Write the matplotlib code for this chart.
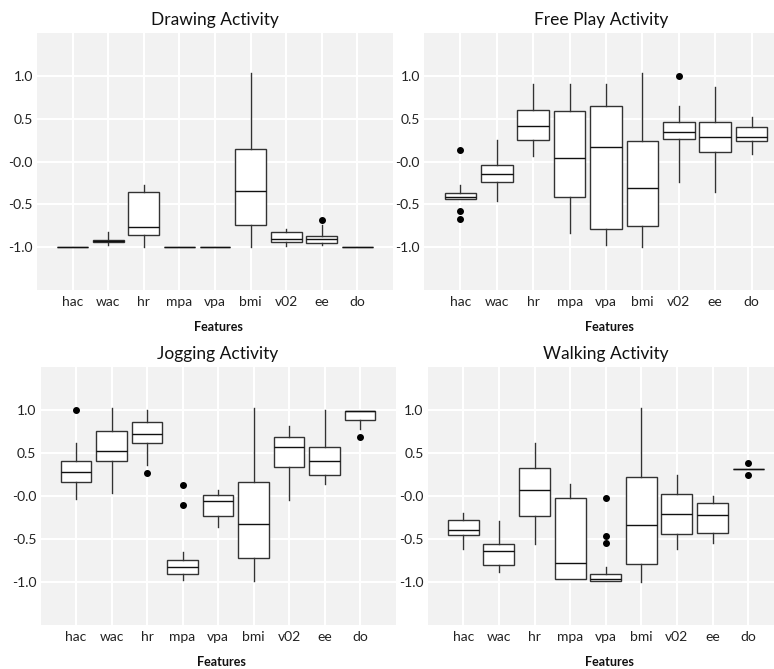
import numpy as np
import matplotlib
matplotlib.use("Agg")
import matplotlib.pyplot as plt

plt.rcParams['font.family'] = ['Lato', 'DejaVu Sans']

features = ['hac', 'wac', 'hr', 'mpa', 'vpa', 'bmi', 'v02', 'ee', 'do']
titles = ['Drawing Activity', 'Free Play Activity', 'Jogging Activity', 'Walking Activity']
ytick_vals = [1.0, 0.5, 0.0, -0.5, -1.0]
ytick_labels = ['1.0', '0.5', '-0.0', '-0.5', '-1.0']

# box stats, one entry per feature
drawing_lo = [-1.0, -0.97, -1.0, -1.0, -1.0, -1.0, -0.99, -0.98, -1.0]
drawing_q1 = [-1.0, -0.935, -0.86, -1.0, -1.0, -0.74, -0.94, -0.95, -1.0]
drawing_med = [-1.0, -0.925, -0.76, -1.0, -1.0, -0.34, -0.90, -0.91, -1.0]
drawing_q3 = [-1.0, -0.915, -0.36, -1.0, -1.0, 0.15, -0.82, -0.875, -1.0]
drawing_hi = [-1.0, -0.82, -0.28, -1.0, -1.0, 1.03, -0.79, -0.74, -1.0]
drawing_out = [[], [], [], [], [], [], [], [-0.68], []]

freeplay_lo = [-0.44, -0.465, 0.07, -0.84, -0.98, -0.995, -0.245, -0.36, 0.09]
freeplay_q1 = [-0.44, -0.245, 0.25, -0.41, -0.79, -0.755, 0.26, 0.115, 0.235]
freeplay_med = [-0.41, -0.145, 0.42, 0.045, 0.175, -0.305, 0.34, 0.29, 0.29]
freeplay_q3 = [-0.37, -0.045, 0.60, 0.595, 0.65, 0.245, 0.46, 0.465, 0.40]
freeplay_hi = [-0.28, 0.25, 0.91, 0.91, 0.91, 1.03, 0.645, 0.87, 0.52]
freeplay_out = [[0.14, -0.575, -0.67], [], [], [], [], [], [1.0], [], []]

jogging_lo = [-0.03, 0.03, 0.365, -0.975, -0.365, -0.99, -0.05, 0.135, 0.78]
jogging_q1 = [0.16, 0.405, 0.615, -0.91, -0.235, -0.72, 0.335, 0.245, 0.88]
jogging_med = [0.275, 0.525, 0.725, -0.83, -0.055, -0.33, 0.575, 0.41, 0.99]
jogging_q3 = [0.405, 0.76, 0.865, -0.74, 0.01, 0.16, 0.685, 0.575, 0.99]
jogging_hi = [0.615, 1.02, 1.0, -0.655, 0.075, 1.025, 0.815, 1.0, 0.99]
jogging_out = [[1.0], [], [0.27], [0.125, -0.11], [], [], [], [], [0.685]]

walking_lo = [-0.62, -0.88, -0.56, -0.96, -0.99, -1.0, -0.62, -0.55, 0.31]
walking_q1 = [-0.45, -0.80, -0.235, -0.96, -0.99, -0.785, -0.44, -0.435, 0.31]
walking_med = [-0.395, -0.645, 0.07, -0.78, -0.97, -0.335, -0.215, -0.225, 0.31]
walking_q3 = [-0.275, -0.555, 0.33, -0.025, -0.91, 0.22, 0.02, -0.08, 0.31]
walking_hi = [-0.195, -0.285, 0.62, 0.135, -0.825, 1.02, 0.245, 0.0, 0.31]
walking_out = [[], [], [], [], [-0.025, -0.465, -0.545], [], [], [], [0.38, 0.25]]

panels = [
    (drawing_lo, drawing_q1, drawing_med, drawing_q3, drawing_hi, drawing_out),
    (freeplay_lo, freeplay_q1, freeplay_med, freeplay_q3, freeplay_hi, freeplay_out),
    (jogging_lo, jogging_q1, jogging_med, jogging_q3, jogging_hi, jogging_out),
    (walking_lo, walking_q1, walking_med, walking_q3, walking_hi, walking_out),
]

W, H = 774, 669
fig = plt.figure(figsize=(W / 100, H / 100), dpi=100)

# axes boxes in pixels: left, top, width, height (right ones run off the edge)
boxes = [(37, 33, 356, 257), (424, 33, 364, 257),
         (40.5, 367, 355, 258), (427.7, 367, 356, 258)]
title_x = [0.5, 0.488, 0.5, 0.5]

pos = np.arange(1, len(features) + 1)

for i, (lo, q1, med, q3, hi, out) in enumerate(panels):
    l, t, w, h = boxes[i]
    ax = fig.add_axes([l / W, 1 - (t + h) / H, w / W, h / H])
    ax.set_facecolor('#F2F2F2')
    for s in ax.spines.values():
        s.set_visible(False)

    stats = []
    for k in range(len(features)):
        stats.append(dict(whislo=lo[k], q1=q1[k], med=med[k], q3=q3[k],
                          whishi=hi[k], fliers=out[k]))
    ax.bxp(stats, positions=pos, widths=0.87, patch_artist=True, showcaps=False,
           boxprops=dict(facecolor='white', edgecolor='#333333', linewidth=1.0),
           medianprops=dict(color='#111111', linewidth=1.0),
           whiskerprops=dict(color='#333333', linewidth=1.0),
           flierprops=dict(marker='o', markerfacecolor='black', markeredgecolor='black',
                           markersize=4))

    ax.set_xlim(0, 10)
    ax.set_ylim(-1.5, 1.5)
    ax.set_xticks(pos)
    ax.set_xticklabels(features)
    ax.set_yticks(ytick_vals)
    ax.set_yticklabels(ytick_labels)
    ax.tick_params(length=0, labelsize=10, colors='#222222')
    ax.tick_params(axis='x', pad=4)
    ax.tick_params(axis='y', pad=3)
    ax.grid(True, color='white', linewidth=1.5)
    ax.set_axisbelow(True)

    ax.set_title(titles[i], fontsize=12.5, x=title_x[i], pad=6, color='#111111')
    ax.set_xlabel('Features', fontsize=9, fontweight='bold', color='#111111')
    ax.xaxis.set_label_coords(0.51, -0.12)

fig.savefig('out.png', dpi=100)
